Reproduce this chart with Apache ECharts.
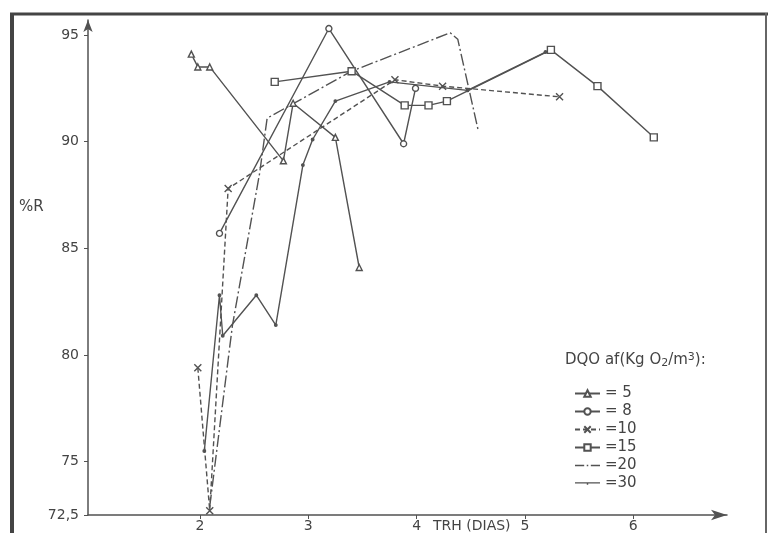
<!DOCTYPE html>
<html><head><meta charset="utf-8">
<script src="https://cdn.jsdelivr.net/npm/echarts@6/dist/echarts.min.js"></script>
<style>html,body{margin:0;padding:0;background:#fff}#c{width:768px;height:533px}</style>
</head><body><div id="c"></div>
<script>
// Tick labels
const xTicks = [2, 3, 4, 5, 6];
const yTicks = [72.5, 75, 80, 85, 90, 95];
// Series names (legend)
const names = ['= 5', '= 8', '=10', '=15', '=20', '=30'];
// DQO = 5 (triangles)
const s5x = [1.92, 1.98, 2.09, 2.77, 2.86, 3.25, 3.47];
const s5y = [94.1, 93.5, 93.5, 89.1, 91.8, 90.2, 84.1];
// DQO = 8 (circles)
const s8x = [2.18, 3.19, 3.88, 3.99];
const s8y = [85.7, 95.3, 89.9, 92.5];
// DQO = 10 (x, dashed)
const s10x = [1.98, 2.09, 2.26, 3.80, 4.24, 5.32];
const s10y = [79.4, 72.7, 87.8, 92.9, 92.6, 92.1];
// DQO = 15 (squares)
const s15x = [2.69, 3.40, 3.89, 4.11, 4.28, 5.24, 5.67, 6.19];
const s15y = [92.8, 93.3, 91.7, 91.7, 91.9, 94.3, 92.6, 90.2];
// DQO = 20 (dash-dot)
const s20x = [2.09, 2.30, 2.55, 2.62, 3.40, 4.31, 4.38, 4.57];
const s20y = [72.9, 81.4, 88.5, 91.1, 93.3, 95.1, 94.8, 90.5];
// DQO = 30 (solid, small marks)
const s30x = [2.04, 2.18, 2.21, 2.52, 2.70, 2.95, 3.04, 3.25, 3.75, 4.47, 5.19];
const s30y = [75.5, 82.8, 80.9, 82.8, 81.4, 88.9, 90.1, 91.9, 92.8, 92.4, 94.2];

const pairs = (xs, ys) => xs.map((x, i) => [x, ys[i]]);
const C = '#525252';
const xPath = 'path://M0,0L10,10M10,0L0,10';
const defs = [
  {x: s5x, y: s5y, symbol: 'triangle', size: 6, dash: 'solid'},
  {x: s8x, y: s8y, symbol: 'circle', size: 6, dash: 'solid'},
  {x: s10x, y: s10y, symbol: xPath, size: 7, dash: [5, 3]},
  {x: s15x, y: s15y, symbol: 'rect', size: 7, dash: 'solid'},
  {x: s20x, y: s20y, symbol: 'none', size: 0, dash: [12, 3, 2, 3]},
  {x: s30x, y: s30y, symbol: 'circle', size: 2.5, dash: 'solid', fill: C}
];
const legendIcons = {
  '=20': 'path://M0,0h9v1.3h-9zM11.5,0h1.5v1.3h-1.5zM15.5,0h9v1.3h-9z',
  '=30': 'path://M0,0h24v1.3h-24zM11.3,0h1.4v2.6h-1.4z'
};

const chart = echarts.init(document.getElementById('c'), null, {renderer: 'canvas'});
chart.setOption({
  backgroundColor: '#fff',
  animation: false,
  grid: {left: 88, right: 41, top: 20, bottom: 16},
  xAxis: {
    type: 'value', min: 0.966, max: 6.866,
    axisLine: {lineStyle: {color: C, width: 1.5}, symbol: ['none', 'arrow'], symbolSize: [8, 16]},
    axisTick: {customValues: xTicks, length: 4, lineStyle: {color: C}},
    axisLabel: {customValues: xTicks, margin: 4, fontSize: 14, color: '#444', fontFamily: 'DejaVu Sans'},
    splitLine: {show: false}
  },
  yAxis: {
    type: 'value', min: 72.5, max: 95.7,
    axisLine: {show: true, lineStyle: {color: C, width: 1.5}, symbol: ['none', 'arrow'], symbolSize: [7, 12]},
    axisTick: {customValues: yTicks, length: 4, lineStyle: {color: C}},
    axisLabel: {customValues: yTicks, margin: 9, fontSize: 14, color: '#444', fontFamily: 'DejaVu Sans',
      formatter: v => v === 72.5 ? '72,5' : String(v)},
    splitLine: {show: false}
  },
  title: {
    text: 'DQO af(Kg O{sub|2}/m{sup|3}):', left: 565, top: 352, padding: 0,
    textStyle: {fontSize: 15, fontWeight: 'normal', color: '#444', fontFamily: 'DejaVu Sans',
      rich: {sub: {fontSize: 11, verticalAlign: 'bottom', padding: [6, 0, 0, 0], color: '#444'},
             sup: {fontSize: 11, verticalAlign: 'top', padding: [0, 0, 6, 0], color: '#444'}}}
  },
  legend: {
    orient: 'vertical', left: 574, top: 386, padding: 0, itemWidth: 25, itemHeight: 8, itemGap: 3,
    data: names.map(n => legendIcons[n] ? {name: n, icon: legendIcons[n], itemStyle: {color: C, borderWidth: 0}} : {name: n}),
    textStyle: {fontSize: 15, lineHeight: 14, color: '#444', fontFamily: 'DejaVu Sans'}
  },
  graphic: [
    {type: 'line', shape: {x1: 10, y1: 14, x2: 768, y2: 14}, style: {stroke: '#444', lineWidth: 3}},
    {type: 'line', shape: {x1: 12, y1: 13, x2: 12, y2: 533}, style: {stroke: '#444', lineWidth: 4}},
    {type: 'line', shape: {x1: 766, y1: 13, x2: 766, y2: 533}, style: {stroke: '#666', lineWidth: 2}},
    {type: 'text', left: 19, top: 200, style: {text: '%R', fontSize: 15, fill: '#444', fontFamily: 'DejaVu Sans'}},
    {type: 'text', left: 433, top: 519, style: {text: 'TRH (DIAS)', fontSize: 14, fill: '#444', fontFamily: 'DejaVu Sans'}}
  ],
  series: defs.map((d, i) => ({
    name: names[i], type: 'line', data: pairs(d.x, d.y),
    symbol: d.symbol, symbolSize: d.size, showAllSymbol: true,
    lineStyle: {color: C, width: 1.4, type: d.dash},
    itemStyle: {color: d.fill || '#fff', borderColor: C, borderWidth: 1.4},
    emphasis: {disabled: true}
  }))
});
</script></body></html>
